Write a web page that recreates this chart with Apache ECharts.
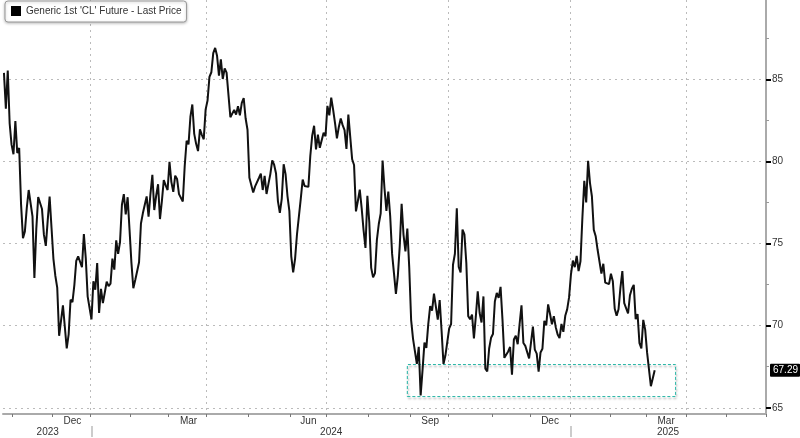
<!DOCTYPE html>
<html>
<head>
<meta charset="utf-8">
<script src="https://cdn.jsdelivr.net/npm/echarts@6/dist/echarts.min.js"></script>
<style>html,body{margin:0;padding:0;background:#fff}#c{width:800px;height:438px}</style>
</head>
<body>
<div id="c"></div>
<script>
const seriesName = "Generic 1st 'CL' Future - Last Price";

// trading days on the x axis (including the empty future part of the axis)
const dates = [
'2023-10-25','2023-10-26','2023-10-27','2023-10-30','2023-10-31',
'2023-11-01','2023-11-02','2023-11-03','2023-11-06','2023-11-07','2023-11-08','2023-11-09','2023-11-10','2023-11-13','2023-11-14','2023-11-15','2023-11-16','2023-11-17','2023-11-20','2023-11-21','2023-11-22','2023-11-24','2023-11-27','2023-11-28','2023-11-29','2023-11-30',
'2023-12-01','2023-12-04','2023-12-05','2023-12-06','2023-12-07','2023-12-08','2023-12-11','2023-12-12','2023-12-13','2023-12-14','2023-12-15','2023-12-18','2023-12-19','2023-12-20','2023-12-21','2023-12-22','2023-12-26','2023-12-27','2023-12-28','2023-12-29',
'2024-01-02','2024-01-03','2024-01-04','2024-01-05','2024-01-08','2024-01-09','2024-01-10','2024-01-11','2024-01-12','2024-01-16','2024-01-17','2024-01-18','2024-01-19','2024-01-22','2024-01-23','2024-01-24','2024-01-25','2024-01-26','2024-01-29','2024-01-30','2024-01-31',
'2024-02-01','2024-02-02','2024-02-05','2024-02-06','2024-02-07','2024-02-08','2024-02-09','2024-02-12','2024-02-13','2024-02-14','2024-02-15','2024-02-16','2024-02-20','2024-02-21','2024-02-22','2024-02-23','2024-02-26','2024-02-27','2024-02-28','2024-02-29',
'2024-03-01','2024-03-04','2024-03-05','2024-03-06','2024-03-07','2024-03-08','2024-03-11','2024-03-12','2024-03-13','2024-03-14','2024-03-15','2024-03-18','2024-03-19','2024-03-20','2024-03-21','2024-03-22','2024-03-25','2024-03-26','2024-03-27','2024-03-28',
'2024-04-01','2024-04-02','2024-04-03','2024-04-04','2024-04-05','2024-04-08','2024-04-09','2024-04-10','2024-04-11','2024-04-12','2024-04-15','2024-04-16','2024-04-17','2024-04-18','2024-04-19','2024-04-22','2024-04-23','2024-04-24','2024-04-25','2024-04-26','2024-04-29','2024-04-30',
'2024-05-01','2024-05-02','2024-05-03','2024-05-06','2024-05-07','2024-05-08','2024-05-09','2024-05-10','2024-05-13','2024-05-14','2024-05-15','2024-05-16','2024-05-17','2024-05-20','2024-05-21','2024-05-22','2024-05-23','2024-05-24','2024-05-28','2024-05-29','2024-05-30','2024-05-31',
'2024-06-03','2024-06-04','2024-06-05','2024-06-06','2024-06-07','2024-06-10','2024-06-11','2024-06-12','2024-06-13','2024-06-14','2024-06-17','2024-06-18','2024-06-20','2024-06-21','2024-06-24','2024-06-25','2024-06-26','2024-06-27','2024-06-28',
'2024-07-01','2024-07-02','2024-07-03','2024-07-05','2024-07-08','2024-07-09','2024-07-10','2024-07-11','2024-07-12','2024-07-15','2024-07-16','2024-07-17','2024-07-18','2024-07-19','2024-07-22','2024-07-23','2024-07-24','2024-07-25','2024-07-26','2024-07-29','2024-07-30','2024-07-31',
'2024-08-01','2024-08-02','2024-08-05','2024-08-06','2024-08-07','2024-08-08','2024-08-09','2024-08-12','2024-08-13','2024-08-14','2024-08-15','2024-08-16','2024-08-19','2024-08-20','2024-08-21','2024-08-22','2024-08-23','2024-08-26','2024-08-27','2024-08-28','2024-08-29','2024-08-30',
'2024-09-03','2024-09-04','2024-09-05','2024-09-06','2024-09-09','2024-09-10','2024-09-11','2024-09-12','2024-09-13','2024-09-16','2024-09-17','2024-09-18','2024-09-19','2024-09-20','2024-09-23','2024-09-24','2024-09-25','2024-09-26','2024-09-27','2024-09-30',
'2024-10-01','2024-10-02','2024-10-03','2024-10-04','2024-10-07','2024-10-08','2024-10-09','2024-10-10','2024-10-11','2024-10-14','2024-10-15','2024-10-16','2024-10-17','2024-10-18','2024-10-21','2024-10-22','2024-10-23','2024-10-24','2024-10-25','2024-10-28','2024-10-29','2024-10-30','2024-10-31',
'2024-11-01','2024-11-04','2024-11-05','2024-11-06','2024-11-07','2024-11-08','2024-11-11','2024-11-12','2024-11-13','2024-11-14','2024-11-15','2024-11-18','2024-11-19','2024-11-20','2024-11-21','2024-11-22','2024-11-25','2024-11-26','2024-11-27','2024-11-29',
'2024-12-02','2024-12-03','2024-12-04','2024-12-05','2024-12-06','2024-12-09','2024-12-10','2024-12-11','2024-12-12','2024-12-13','2024-12-16','2024-12-17','2024-12-18','2024-12-19','2024-12-20','2024-12-23','2024-12-24','2024-12-26','2024-12-27','2024-12-30','2024-12-31',
'2025-01-02','2025-01-03','2025-01-06','2025-01-07','2025-01-08','2025-01-09','2025-01-10','2025-01-13','2025-01-14','2025-01-15','2025-01-16','2025-01-17','2025-01-21','2025-01-22','2025-01-23','2025-01-24','2025-01-27','2025-01-28','2025-01-29','2025-01-30','2025-01-31',
'2025-02-03','2025-02-04','2025-02-05','2025-02-06','2025-02-07','2025-02-10','2025-02-11','2025-02-12','2025-02-13','2025-02-14','2025-02-18','2025-02-19','2025-02-20','2025-02-21','2025-02-24','2025-02-25','2025-02-26','2025-02-27','2025-02-28',
'2025-03-03','2025-03-04','2025-03-05','2025-03-06','2025-03-07','2025-03-10','2025-03-11','2025-03-12','2025-03-13','2025-03-14','2025-03-17','2025-03-18','2025-03-19','2025-03-20','2025-03-21','2025-03-24','2025-03-25','2025-03-26','2025-03-27','2025-03-28','2025-03-31',
'2025-04-01','2025-04-02','2025-04-03','2025-04-04','2025-04-07','2025-04-08','2025-04-09','2025-04-10','2025-04-11','2025-04-14','2025-04-15','2025-04-16','2025-04-17','2025-04-21','2025-04-22','2025-04-23','2025-04-24','2025-04-25','2025-04-28','2025-04-29','2025-04-30',
'2025-05-01','2025-05-02','2025-05-05','2025-05-06','2025-05-07','2025-05-08','2025-05-09','2025-05-12','2025-05-13','2025-05-14','2025-05-15','2025-05-16','2025-05-19','2025-05-20','2025-05-21','2025-05-22','2025-05-23','2025-05-27','2025-05-28','2025-05-29','2025-05-30'
];

// last price per trading day (from 2023-10-25 to 2025-03-07)
const prices = [
85.39,83.21,85.54,82.31,81.02,
80.44,82.46,80.51,80.82,77.37,75.33,75.74,77.17,78.26,78.26,76.66,72.90,75.89,77.83,77.77,77.10,75.54,74.86,76.41,77.86,75.96,
74.07,73.04,72.32,69.38,69.34,71.23,71.32,68.61,69.47,71.58,71.43,72.47,73.94,74.22,73.89,73.56,75.57,74.11,71.77,71.65,
70.38,72.70,72.19,73.81,70.77,72.24,71.37,72.02,72.68,72.40,72.56,74.08,73.41,75.19,74.37,75.09,77.36,78.01,76.78,77.82,75.85,
73.82,72.28,72.78,73.31,73.86,76.22,76.84,76.92,77.87,76.64,78.03,79.19,77.04,77.91,78.61,76.49,77.58,78.87,78.54,78.26,
79.97,78.74,78.15,79.13,78.93,78.01,77.93,77.56,79.72,81.26,81.04,82.72,83.47,81.68,81.07,80.63,81.95,81.62,81.35,83.17,
83.71,85.15,85.43,86.59,86.91,86.43,85.23,86.21,85.02,85.66,85.41,85.36,82.69,82.73,83.14,82.85,83.36,82.81,83.57,83.85,82.63,81.93,
79.00,78.95,78.11,78.48,78.38,78.99,79.26,78.26,79.12,78.02,78.63,79.23,80.06,79.80,79.26,77.57,76.87,77.72,79.83,79.23,77.91,76.99,
74.22,73.25,74.07,75.55,75.53,77.74,78.90,78.50,78.62,78.45,80.33,81.57,82.17,80.73,81.63,80.83,80.90,81.74,81.54,
83.38,82.81,83.88,83.16,82.33,81.41,82.10,82.62,82.21,81.91,80.76,82.85,82.82,80.13,79.78,76.96,77.59,78.28,77.16,75.81,74.73,77.91,
76.31,73.52,72.94,73.20,75.23,76.19,76.84,80.06,78.35,76.98,78.16,76.65,74.37,73.17,71.93,73.01,74.83,77.42,75.53,74.52,75.91,73.55,
70.34,69.20,69.15,67.67,68.71,65.75,67.31,68.97,68.65,70.09,71.19,70.91,71.95,71.92,70.37,71.56,69.69,67.67,68.18,68.17,
69.83,70.10,73.71,74.38,77.14,73.57,73.24,75.85,75.56,73.83,70.58,70.39,70.67,69.22,70.56,72.09,70.77,70.19,71.78,67.38,67.21,68.61,69.26,
69.49,71.47,71.99,71.69,72.36,70.38,68.04,68.12,68.43,68.70,67.02,69.16,69.39,68.87,70.10,71.24,68.94,68.77,68.72,68.00,
68.10,69.94,68.54,68.30,67.20,68.37,68.59,70.29,70.02,71.29,70.71,70.08,70.58,69.91,69.46,69.24,70.10,69.62,70.60,70.99,71.72,
73.13,73.96,73.56,74.25,73.32,73.92,76.57,78.82,77.50,80.04,78.68,77.88,75.83,75.44,74.62,74.66,73.17,73.77,72.62,72.73,72.53,
73.16,72.70,71.03,70.61,71.00,72.32,73.32,71.37,71.29,70.74,71.85,72.25,72.48,70.40,70.70,68.93,68.62,70.35,69.76,
68.37,68.26,66.31,66.36,67.29
];

const yTicks = [65, 70, 75, 80, 85];
const yMin = 64.62, yMax = 89.83;
const boxDates = ['2024-08-29', '2025-03-24'];
const boxPrices = [65.68, 67.63];
const monthNames = {'12': 'Dec', '03': 'Mar', '06': 'Jun', '09': 'Sep'};
const quarterMonths = ['01', '04', '07', '10'];

// derive tick / label positions from the category list
const monthGroups = {}, yearGroups = {};
dates.forEach((d, i) => {
  (monthGroups[d.slice(0, 7)] = monthGroups[d.slice(0, 7)] || []).push(i);
  (yearGroups[d.slice(0, 4)] = yearGroups[d.slice(0, 4)] || []).push(i);
});
const monthStart = new Set(), quarterStart = new Set(), monthLabelIdx = new Set(), yearStart = new Set(), yearLabelIdx = new Set();
Object.keys(monthGroups).forEach(k => {
  const g = monthGroups[k];
  if (g[0] > 0) {
    monthStart.add(g[0]);
    if (quarterMonths.includes(k.slice(5))) quarterStart.add(g[0]);
  }
  if (monthNames[k.slice(5)]) monthLabelIdx.add(g[Math.floor(g.length / 2)]);
});
Object.keys(yearGroups).forEach(k => {
  const g = yearGroups[k];
  if (g[0] > 0) yearStart.add(g[0]);
  yearLabelIdx.add(g[Math.floor(g.length / 2)]);
});

const FONT = 'Liberation Sans';
const chart = echarts.init(document.getElementById('c'), null, {renderer: 'canvas'});
chart.setOption({
  animation: false,
  backgroundColor: '#fff',
  textStyle: {fontFamily: FONT},
  grid: {left: 3, right: 34, top: 0, bottom: 24, containLabel: false},
  legend: {
    show: true, left: 5, top: 1, orient: 'horizontal',
    padding: [5, 5, 6, 6], itemWidth: 10, itemHeight: 10, icon: 'rect',
    backgroundColor: '#fff', borderColor: '#999', borderWidth: 1, borderRadius: 3,
    shadowColor: 'rgba(0,0,0,0.25)', shadowBlur: 3, shadowOffsetY: 1,
    textStyle: {fontSize: 10, color: '#333', fontFamily: FONT},
    selectedMode: false,
    data: [seriesName]
  },
  xAxis: [
    {
      type: 'category', data: dates, boundaryGap: true,
      axisLine: {show: true, lineStyle: {color: '#aaa', width: 2}},
      axisTick: {show: true, interval: (i) => monthStart.has(i), length: 3, lineStyle: {color: '#777', width: 1}},
      axisLabel: {
        show: true, interval: (i) => monthLabelIdx.has(i), margin: 2,
        formatter: (v) => monthNames[v.slice(5, 7)] || '',
        fontSize: 10, color: '#333', fontFamily: FONT
      },
      splitLine: {show: true, interval: (i) => quarterStart.has(i), lineStyle: {type: [2, 4], color: '#bbb', width: 1}}
    },
    {
      type: 'category', data: dates, boundaryGap: true, position: 'bottom', offset: 12,
      axisLine: {show: false},
      axisTick: {show: true, alignWithLabel: true, interval: (i) => yearStart.has(i), length: 11, lineStyle: {color: '#ccc', width: 2}},
      axisLabel: {
        show: true, interval: (i) => yearLabelIdx.has(i), margin: 1,
        formatter: (v) => v.slice(0, 4),
        fontSize: 10, color: '#333', fontFamily: FONT
      },
      splitLine: {show: false}
    }
  ],
  yAxis: {
    type: 'value', position: 'right', min: yMin, max: yMax,
    axisLine: {show: true, lineStyle: {color: '#aaa', width: 2}},
    axisTick: {show: true, customValues: yTicks, length: 5, lineStyle: {color: '#000', width: 2}},
    axisLabel: {show: true, customValues: yTicks, margin: 6, fontSize: 10, color: '#333', fontFamily: FONT},
    minorTick: {show: true, splitNumber: 2, length: 3, lineStyle: {color: '#999', width: 1}},
    splitLine: {show: true, lineStyle: {type: [2, 4], color: '#bbb', width: 1}}
  },
  series: [{
    name: seriesName, type: 'line', xAxisIndex: 0, data: prices,
    showSymbol: false, symbol: 'none',
    color: '#000',
    lineStyle: {color: '#111', width: 2},
    z: 3,
    markArea: {
      silent: true,
      data: [[{xAxis: boxDates[0], yAxis: boxPrices[0]}, {xAxis: boxDates[1], yAxis: boxPrices[1]}]],
      itemStyle: {
        color: 'rgba(255,255,255,0)', borderColor: '#22b3a3', borderWidth: 1, borderType: [3, 2],
        shadowColor: 'rgba(0,0,0,0.35)', shadowBlur: 2, shadowOffsetX: 1, shadowOffsetY: 2
      }
    },
    markLine: {
      silent: true, symbol: ['none', 'none'],
      data: [{yAxis: prices[prices.length - 1]}],
      lineStyle: {color: 'rgba(0,0,0,0)', width: 1, type: 'solid'},
      label: {
        show: true, position: 'end', distance: 4,
        formatter: (p) => Number(p.value).toFixed(2),
        color: '#fff', backgroundColor: '#000', fontSize: 10,
        fontFamily: 'Liberation Sans Narrow, Liberation Sans', padding: [2, 2, 1, 3], borderRadius: 1
      }
    }
  }]
});
</script>
</body>
</html>
